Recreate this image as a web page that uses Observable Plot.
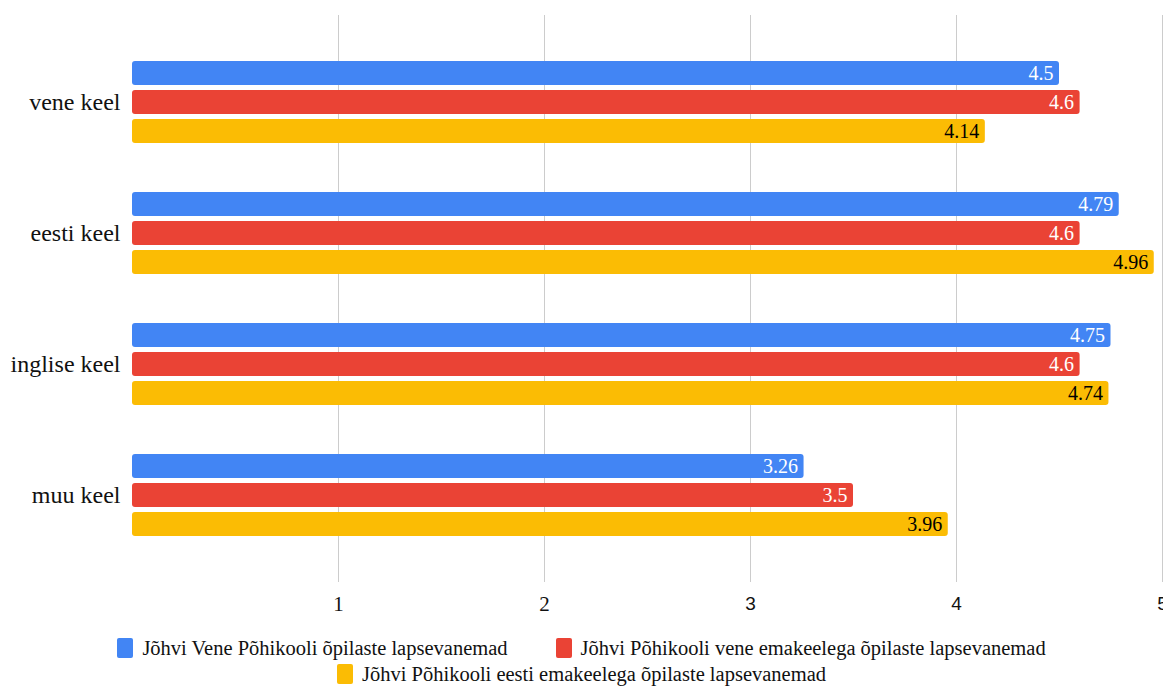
<!DOCTYPE html>
<html>
<head>
<meta charset="utf-8">
<script src="https://cdn.jsdelivr.net/npm/d3@7"></script>
<script src="https://cdn.jsdelivr.net/npm/@observablehq/plot@0.6"></script>
<style>
  body { margin: 0; background: #fff; font-family: "Liberation Serif", "Times New Roman", Times, serif; }
  #chart svg { display: block; overflow: visible; }
  .legend { width: 1163px; font-size: 20.5px; color: #111; margin-top: 5px; font-family: "Liberation Serif", "Times New Roman", serif; }
  .row { display: flex; justify-content: center; align-items: center; height: 26px; }
  .item { display: flex; align-items: center; margin: 0 24px; }
  .sw { width: 16px; height: 20px; border-radius: 2px; margin-right: 9px; }
</style>
</head>
<body>
<div id="chart"></div>
<div class="legend" id="legend"></div>
<script>
const languages = ["vene keel", "eesti keel", "inglise keel", "muu keel"];
const seriesNames = [
  "Jõhvi Vene Põhikooli õpilaste lapsevanemad",
  "Jõhvi Põhikooli vene emakeelega õpilaste lapsevanemad",
  "Jõhvi Põhikooli eesti emakeelega õpilaste lapsevanemad"
];
const vanemadVene = [4.5, 4.79, 4.75, 3.26];
const vanemadVeneEmakeel = [4.6, 4.6, 4.6, 3.5];
const vanemadEestiEmakeel = [4.14, 4.96, 4.74, 3.96];
const colors = ["#4285F4", "#EA4335", "#FBBC04"];
const labelColors = ["#fff", "#fff", "#000"];
const xTicks = [1, 2, 3, 4, 5];

const SERIF = "'Liberation Serif', 'Times New Roman', serif";
const SANS = "'Liberation Sans', Arial, sans-serif";

const seriesValues = [vanemadVene, vanemadVeneEmakeel, vanemadEestiEmakeel];
const rows = [];
seriesValues.forEach((vals, s) => vals.forEach((v, i) => rows.push({language: languages[i], series: s, value: v})));

const barH = 24, gap = 5;
const marks = [Plot.ruleX(xTicks, {stroke: "#cccccc", strokeWidth: 1})];
for (let s = 0; s < 3; s++) {
  const d = rows.filter(r => r.series === s);
  marks.push(Plot.barX(d, {
    x: "value", y: "language", fill: colors[s], rx: 3,
    insetTop: s * (barH + gap), insetBottom: (2 - s) * (barH + gap)
  }));
  marks.push(Plot.text(d, {
    x: "value", y: "language", text: d => String(d.value),
    textAnchor: "end", dx: -6, dy: (s - 1) * (barH + gap),
    fill: labelColors[s], fontSize: 20, fontFamily: SERIF
  }));
}

const plot = Plot.plot({
  width: 1163,
  height: 630,
  marginLeft: 132,
  marginRight: 1,
  marginTop: 15,
  marginBottom: 48,
  style: {fontFamily: SERIF, fontSize: "19px", color: "#111", background: "#fff"},
  x: {domain: [0, 5], ticks: xTicks, tickSize: 0, tickPadding: 14, label: null, tickFormat: d => String(d)},
  y: {domain: languages, paddingInner: 0.374, paddingOuter: 0.351, tickSize: 0, tickPadding: 12, label: null},
  marks
});
plot.querySelectorAll("g[aria-label]").forEach(g => {
  const lab = g.getAttribute("aria-label");
  if (lab.startsWith("y-axis")) {
    g.setAttribute("font-size", "24");
    g.querySelectorAll("text").forEach(t => { t.setAttribute("font-size", "24"); t.style.fontSize = "24px"; t.style.fontFamily = SERIF; t.style.fill = "#111"; });
  }
  if (lab.startsWith("x-axis")) {
    g.setAttribute("font-size", "21");
    g.querySelectorAll("text").forEach(t => {
      const sans = +t.textContent >= 3;
      t.setAttribute("font-size", sans ? "19" : "21"); t.style.fontSize = sans ? "19px" : "21px"; t.style.fill = "#111";
      t.style.fontFamily = sans ? SANS : SERIF;
    });
  }
});
document.getElementById("chart").appendChild(plot);

const legend = document.getElementById("legend");
const rowsDef = [[0, 1], [2]];
rowsDef.forEach(r => {
  const row = document.createElement("div");
  row.className = "row";
  r.forEach(s => {
    const it = document.createElement("div");
    it.className = "item";
    const sw = document.createElement("div");
    sw.className = "sw";
    sw.style.background = colors[s];
    const tx = document.createElement("span");
    tx.textContent = seriesNames[s];
    it.appendChild(sw); it.appendChild(tx);
    row.appendChild(it);
  });
  legend.appendChild(row);
});
</script>
</body>
</html>
